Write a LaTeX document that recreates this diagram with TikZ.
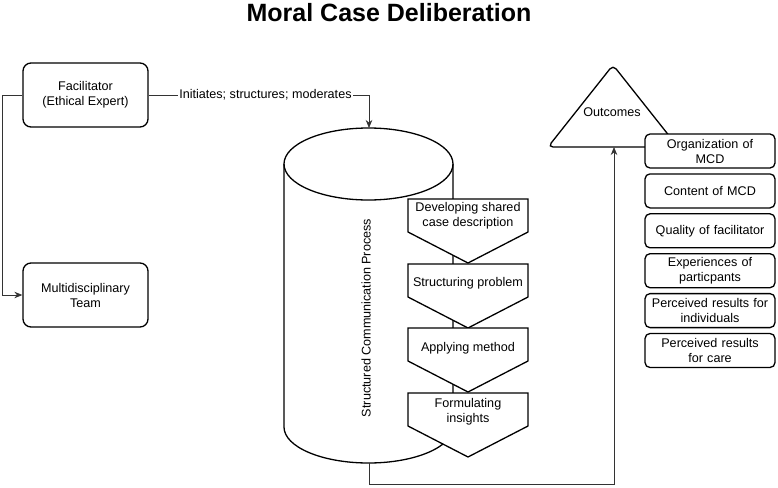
\documentclass[tikz,border=0pt]{standalone}
\usepackage{fontspec}
\setmainfont{Liberation Sans}
\usepackage{tikz}
\usetikzlibrary{arrows.meta,positioning,shapes.geometric}
\tikzstyle{recNode} = [rectangle, minimum width=125pt, minimum height=64pt, text centered, align=center, rounded corners=8pt, draw=black, line width=1.3pt]
\tikzstyle{outNode} = [rectangle, minimum width=130pt, minimum height=34pt, text width=126pt, inner sep=1pt, text centered, align=center, rounded corners=5pt, draw=black, line width=1.3pt, fill=white]
\tikzstyle{chevron} = [draw=black, line width=1.3pt, fill=white, line join=miter]
\tikzstyle{eNode} = [text centered, align=center]
\tikzstyle{arrow} = [-{Stealth[length=8pt,width=6.5pt]},draw=black!80,line width=0.8pt]

\begin{document}
\begin{tikzpicture}[x=1pt, y=-1pt, node distance=4.6pt, font=\fontsize{12.6}{15}\selectfont]
        \useasboundingbox (0,0) rectangle (778,487);
        \node (title) [eNode, font=\fontsize{25}{30}\selectfont\bfseries] at (389,13) {Moral Case Deliberation};

        \node (fac) [recNode] at (85.5,95) {Facilitator\\(Ethical Expert)};
        \node (team) [recNode] at (85.5,295) {Multidisciplinary\\Team};

        % cylinder
        \draw [line width=1.3pt] (284,164) -- (284,427) arc[start angle=180, end angle=0, x radius=84.5, y radius=36] -- (453,164);
        \draw [line width=1.3pt] (368.5,164) ellipse[x radius=84.5, y radius=36];
        \coordinate (cyltop) at (369,128);
        \coordinate (cylbot) at (369,463);
        \node (scp) [eNode, rotate=90] at (366,318) {Structured Communication Process};

        % steps
        \draw [chevron] (408,199) -- (528,199) -- (528,232) -- (468,263) -- (408,232) -- cycle;
        \node (dev) [eNode] at (468,216) {Developing shared\\case description};
        \draw [chevron] (408,264) -- (528,264) -- (528,297) -- (468,328) -- (408,297) -- cycle;
        \node (str) [eNode] at (468,283) {Structuring problem};
        \draw [chevron] (408,328) -- (528,328) -- (528,361) -- (468,392) -- (408,361) -- cycle;
        \node (app) [eNode] at (468,348) {Applying method};
        \draw [chevron] (408,393) -- (528,393) -- (528,426) -- (468,457) -- (408,426) -- cycle;
        \node (frm) [eNode] at (468,412) {Formulating\\insights};

        % outcomes
        \draw [line width=1.3pt, rounded corners=5pt] (548,147) -- (613,65) -- (678,147) -- cycle;
        \node (out) [eNode] at (612,112) {Outcomes};
        \coordinate (outbase) at (614,147);

        \node (org) [outNode] at (710,151) {Organization of\\MCD};
        \node (cont) [outNode, below=of org] {Content of MCD};
        \node (qual) [outNode, below=of cont] {Quality of facilitator};
        \node (exp) [outNode, below=of qual] {Experiences of\\particpants};
        \node (ind) [outNode, below=of exp] {Perceived results for\\individuals};
        \node (care) [outNode, below=of ind] {Perceived results\\for care};

        \draw [arrow] (fac.east) -| node[pos=0.265, fill=white, inner sep=1.5pt] {Initiates; structures; moderates} (cyltop);
        \draw [arrow] (fac.west) -- ++(-20,0) |- (team.west);
        \draw [arrow] (cylbot) -- ++(0,21) -| (outbase);

    \end{tikzpicture}
\end{document}
